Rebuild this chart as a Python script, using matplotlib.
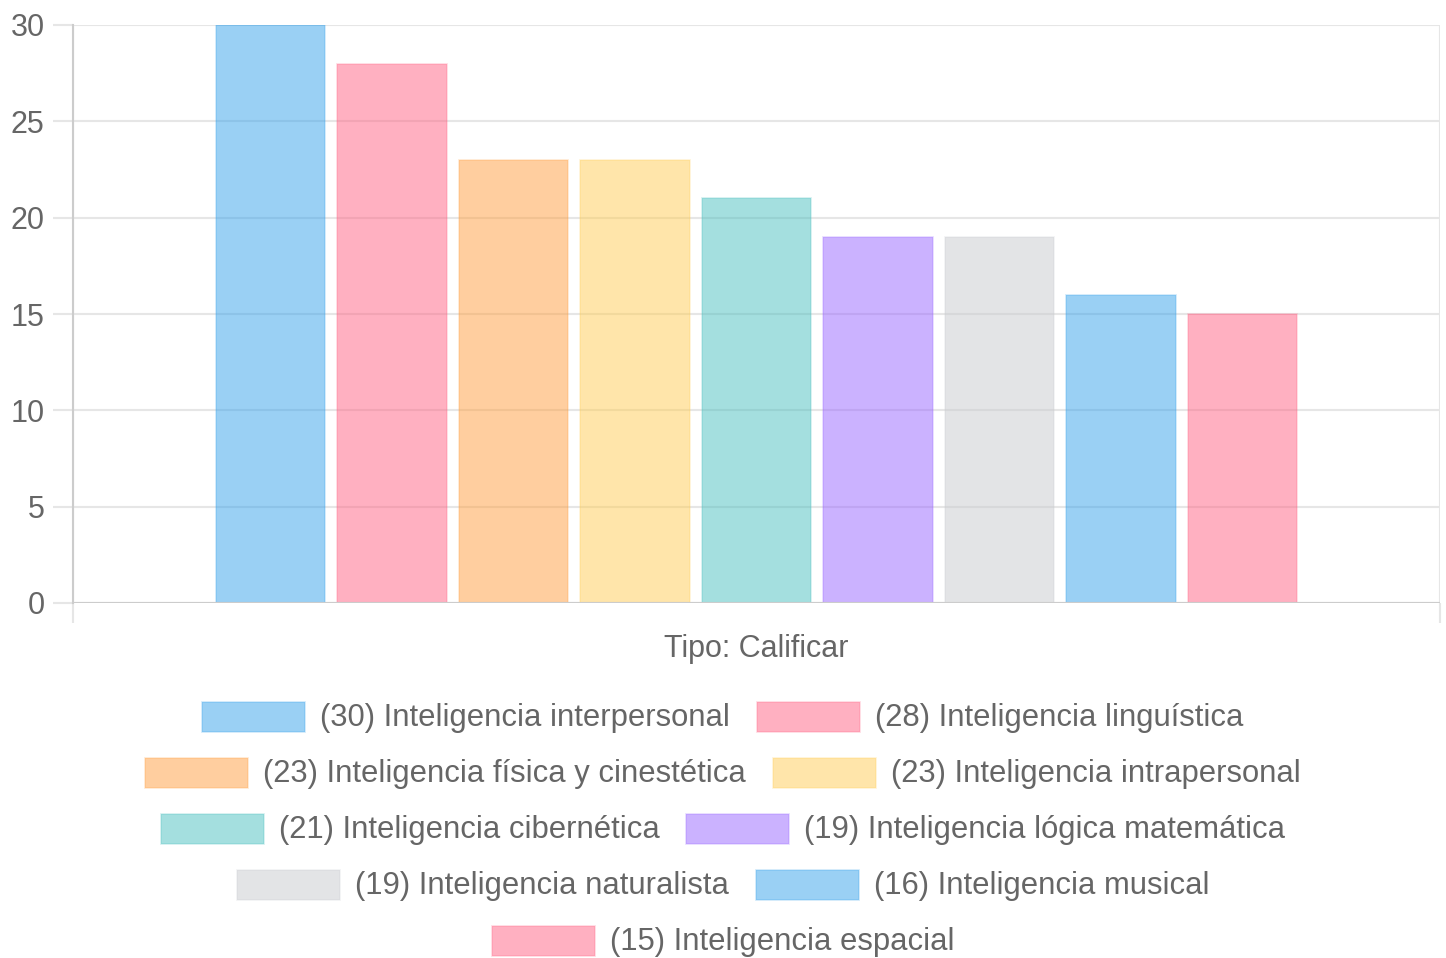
import matplotlib
matplotlib.use("Agg")
import matplotlib.pyplot as plt

# datos
labels = [
    "Inteligencia interpersonal",
    "Inteligencia linguística",
    "Inteligencia física y cinestética",
    "Inteligencia intrapersonal",
    "Inteligencia cibernética",
    "Inteligencia lógica matemática",
    "Inteligencia naturalista",
    "Inteligencia musical",
    "Inteligencia espacial",
]
values = [30, 28, 23, 23, 21, 19, 19, 16, 15]
category = "Tipo: Calificar"
yticks = [0, 5, 10, 15, 20, 25, 30]

# paleta por defecto de chart.js
palette = [(54, 162, 235), (255, 99, 132), (255, 159, 64), (255, 205, 86),
           (75, 192, 192), (153, 102, 255), (201, 203, 207)]
colors = [tuple(c / 255 for c in palette[i % len(palette)]) for i in range(len(values))]

W, H = 1446, 958
plt.rcParams['font.family'] = ['Liberation Sans', 'DejaVu Sans']
txt_color = '#666666'
fs = 22
fs_leg = 22.3
grid_c = '#e6e6e6'
axis_c = '#cccccc'

fig = plt.figure(figsize=(W / 100, H / 100), dpi=100)
left, right, top, bottom = 73, 1440, 25, 603
ax = fig.add_axes([left / W, 1 - bottom / H, (right - left) / W, (bottom - top) / H])

n = len(values)
slot = 0.8 / n
xs = [0.1 + slot * (i + 0.5) for i in range(n)]
for x, v, c in zip(xs, values, colors):
    ax.bar(x, v, width=slot * 0.9, color=c + (0.5,), edgecolor=c + (0.25,), linewidth=1.2, zorder=2)

ax.set_xlim(0, 1)
ax.set_ylim(0, 30)
ax.set_yticks(yticks)
ax.set_xticks([0, 1])
ax.set_xticklabels([])
ax.grid(True, color=grid_c, linewidth=1.5, zorder=1)
for s in ['top', 'right', 'bottom']:
    ax.spines[s].set_visible(False)
ax.spines['left'].set_color(axis_c)
ax.spines['left'].set_linewidth(1.5)
ax.tick_params(axis='y', length=14.4, width=1.5, color=grid_c, labelsize=fs,
               labelcolor=txt_color, pad=6)
ax.tick_params(axis='x', length=14.4, width=1.5, color=grid_c)
ax.axhline(0, color=axis_c, linewidth=1.5, zorder=4)

fig.text(0.5 * (left + right) / W, 1 - 649 / H, category, ha='center', va='center',
         fontsize=fs, color=txt_color)

# leyenda centrada por filas
fig.canvas.draw()
renderer = fig.canvas.get_renderer()
box_w, box_h, gap_text, gap_item = 103, 30, 15, 27
rows = [[0, 1], [2, 3], [4, 5], [6, 7], [8]]
row_y = [717, 773, 829, 885, 941]
for row, yc in zip(rows, row_y):
    items = []
    for i in row:
        t = fig.text(0, 0, "(%d) %s" % (values[i], labels[i]), fontsize=fs_leg, color=txt_color,
                     va='center', ha='left')
        w = t.get_window_extent(renderer).width
        items.append((i, t, w))
    total = sum(box_w + gap_text + w for _, _, w in items) + gap_item * (len(items) - 1)
    x0 = W / 2 - total / 2
    for i, t, w in items:
        c = colors[i]
        fig.patches.append(plt.Rectangle((x0 / W, 1 - (yc + box_h / 2) / H), box_w / W, box_h / H,
                                         transform=fig.transFigure, facecolor=c + (0.5,),
                                         edgecolor=c + (0.25,), linewidth=1.2))
        t.set_position(((x0 + box_w + gap_text) / W, 1 - (yc + 1) / H))
        x0 += box_w + gap_text + w + gap_item

fig.savefig("out.png", dpi=100)
